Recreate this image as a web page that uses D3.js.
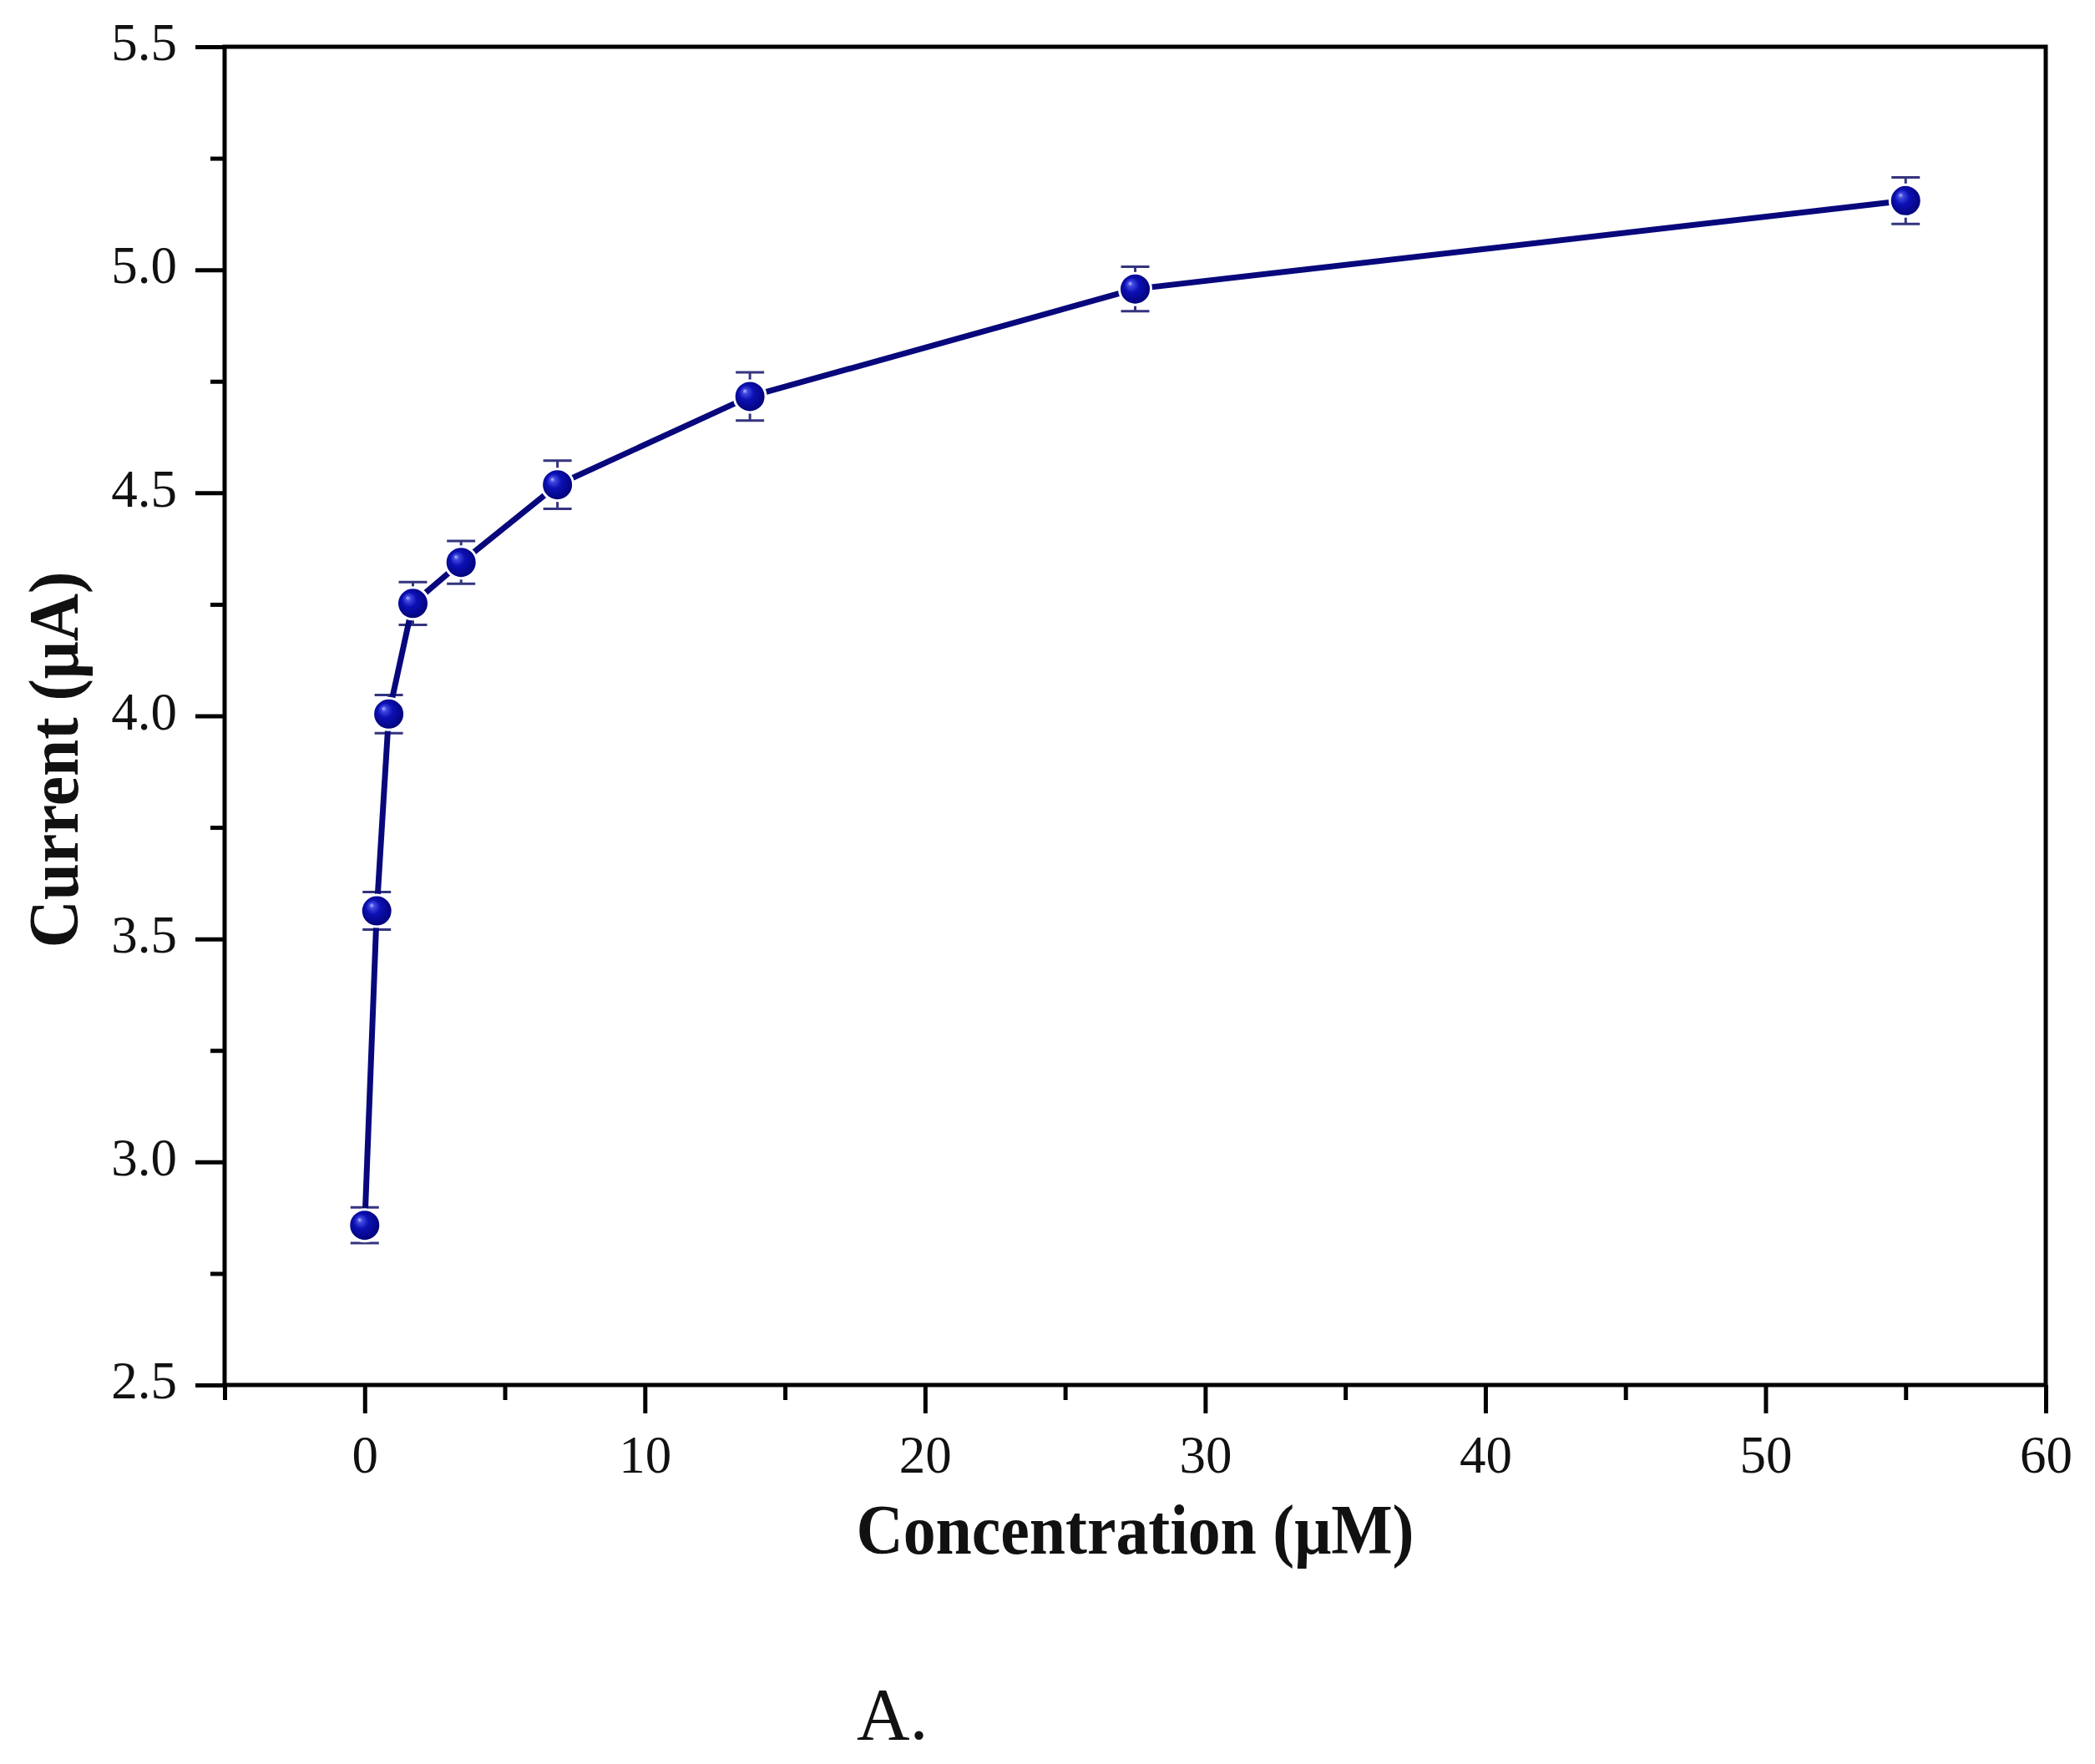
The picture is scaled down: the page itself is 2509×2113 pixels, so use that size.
<!DOCTYPE html>
<html>
<head>
<meta charset="utf-8">
<script src="https://cdn.jsdelivr.net/npm/d3@7"></script>
<style>
  html, body { margin: 0; padding: 0; background: #fff; }
  svg { display: block; }
  text { font-family: "Liberation Serif", "DejaVu Serif", serif; fill: #111; }
</style>
</head>
<body>
<svg id="chart" width="2509" height="2113"></svg>
<script>
// data
const concentration = [0, 0.43, 0.86, 1.72, 3.44, 6.88, 13.75, 27.5, 55];
const current = [2.858, 3.563, 4.004, 4.252, 4.344, 4.518, 4.716, 4.957, 5.155];
const currentErr = [0.04, 0.042, 0.043, 0.048, 0.048, 0.054, 0.054, 0.05, 0.052];

const xMajorTicks = [0, 10, 20, 30, 40, 50, 60];
const xMinorTicks = [-5, 5, 15, 25, 35, 45, 55];
const yMajorTicks = [2.5, 3.0, 3.5, 4.0, 4.5, 5.0, 5.5];
const yMinorTicks = [2.75, 3.25, 3.75, 4.25, 4.75, 5.25];

const xTitle = "Concentration (\u03bcM)";
const yTitle = "Current (\u03bcA)";
const panelLabel = "A.";

const svg = d3.select("svg#chart");

//plot area
const padding = { top: 56, right: 59, bottom: 454, left: 269 };
const chartArea = {
  width: +svg.attr("width") - padding.left - padding.right,
  height: +svg.attr("height") - padding.top - padding.bottom
};

//scales
const xScale = d3.scaleLinear().domain([-5, 60]).range([0, chartArea.width]);
const yScale = d3.scaleLinear().domain([2.5, 5.5]).range([chartArea.height, 0]);

const g = svg.append("g")
  .attr("transform", `translate(${padding.left}, ${padding.top})`);

//gradient for the sphere markers
const defs = svg.append("defs");
const grad = defs.append("radialGradient")
  .attr("id", "ball")
  .attr("cx", "48%").attr("cy", "48%").attr("r", "58%")
  .attr("fx", "33%").attr("fy", "32%");
grad.append("stop").attr("offset", "0%").attr("stop-color", "#b4b8ff");
grad.append("stop").attr("offset", "14%").attr("stop-color", "#4048e0");
grad.append("stop").attr("offset", "40%").attr("stop-color", "#0c10b4");
grad.append("stop").attr("offset", "100%").attr("stop-color", "#00006c");

//axes
const styleAxis = sel => {
  sel.select(".domain").remove();
  sel.selectAll(".tick line").attr("stroke", "#000").attr("stroke-width", 5);
  sel.selectAll(".tick text")
    .style("font-size", "63px")
    .style("font-family", "'Liberation Serif', serif")
    .attr("fill", "#111");
};

g.append("g")
  .attr("transform", `translate(0, ${chartArea.height})`)
  .call(d3.axisBottom(xScale).tickValues(xMajorTicks).tickSize(34).tickPadding(26)
    .tickFormat(d3.format("d")))
  .call(styleAxis);

g.append("g")
  .attr("transform", `translate(0, ${chartArea.height})`)
  .call(d3.axisBottom(xScale).tickValues(xMinorTicks).tickSize(18).tickFormat(""))
  .call(styleAxis);

g.append("g")
  .call(d3.axisLeft(yScale).tickValues(yMajorTicks).tickSize(35).tickPadding(22)
    .tickFormat(d3.format(".1f")))
  .call(styleAxis)
  .selectAll(".tick text").attr("dy", "0.25em");

g.append("g")
  .call(d3.axisLeft(yScale).tickValues(yMinorTicks).tickSize(17).tickFormat(""))
  .call(styleAxis);

//frame
g.append("rect")
  .attr("x", 0).attr("y", 0)
  .attr("width", chartArea.width).attr("height", chartArea.height)
  .attr("fill", "none").attr("stroke", "#000").attr("stroke-width", 5);

const points = concentration.map((c, i) => ({ c, v: current[i], e: currentErr[i] }));

//error bars
const errG = g.append("g").attr("stroke", "#34347e").attr("stroke-width", 3).attr("fill", "none");
points.forEach(p => {
  const x = xScale(p.c);
  errG.append("line").attr("x1", x).attr("x2", x)
    .attr("y1", yScale(p.v - p.e)).attr("y2", yScale(p.v + p.e));
  [p.v - p.e, p.v + p.e].forEach(y => {
    errG.append("line").attr("x1", x - 17).attr("x2", x + 17)
      .attr("y1", yScale(y)).attr("y2", yScale(y));
  });
});

//connecting line
const lineGenerator = d3.line().x(d => xScale(d.c)).y(d => yScale(d.v));
g.append("path")
  .attr("d", lineGenerator(points))
  .attr("fill", "none")
  .attr("stroke", "#08087c")
  .attr("stroke-width", 7)
  .attr("stroke-linejoin", "round");

//markers
g.selectAll("circle.pt")
  .data(points)
  .join("circle")
  .attr("class", "pt")
  .attr("cx", d => xScale(d.c))
  .attr("cy", d => yScale(d.v))
  .attr("r", 19)
  .attr("fill", "url(#ball)")
  .attr("stroke", "#fff")
  .attr("stroke-width", 3);

//axis titles
svg.append("text")
  .attr("x", padding.left + chartArea.width / 2)
  .attr("y", 1861)
  .attr("text-anchor", "middle")
  .attr("textLength", 668)
  .attr("lengthAdjust", "spacingAndGlyphs")
  .style("font-size", "85px")
  .style("font-weight", "bold")
  .text(xTitle);

svg.append("text")
  .attr("transform", "translate(93, 910) rotate(-90)")
  .attr("text-anchor", "middle")
  .attr("textLength", 451)
  .attr("lengthAdjust", "spacingAndGlyphs")
  .style("font-size", "85px")
  .style("font-weight", "bold")
  .text(yTitle);

svg.append("text")
  .attr("x", 1026)
  .attr("y", 2083)
  .style("font-size", "88px")
  .text(panelLabel);
</script>
</body>
</html>
